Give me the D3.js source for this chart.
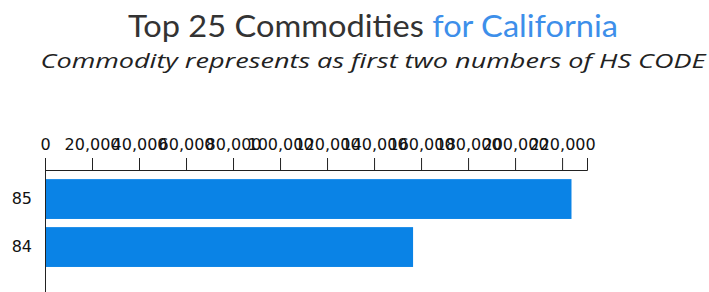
<!DOCTYPE html>
<html>
<head>
<meta charset="utf-8">
<script src="https://cdn.jsdelivr.net/npm/d3@7"></script>
<style>
  body { margin: 0; background: #fff; }
  .title { font-family: Lato, "Open Sans", sans-serif; }
  .subtitle { font-family: "Open Sans", Lato, sans-serif; }
  .axis text { font-family: "DejaVu Sans", Verdana, sans-serif; font-size: 16px; fill: #111; }
  .axis path, .axis line { stroke: #222; }
</style>
</head>
<body>
<div id="chart"></div>
<script>
// data
const commodities = ['85', '84'];
const tradeValues = [224000, 156600];
const xMax = 230600;

const width = 709, height = 292;
const margin = {top: 170, left: 45};
const plotW = 542;
const plotH = 200;
const bandStep = 48;

const svg = d3.select('#chart')
    .append('svg')
    .attr('width', width)
    .attr('height', height);

// title
const title = svg.append('text')
    .attr('class', 'title')
    .attr('x', 373)
    .attr('y', 37)
    .attr('text-anchor', 'middle')
    .attr('textLength', 490)
    .attr('lengthAdjust', 'spacingAndGlyphs')
    .style('font-size', '31px');
title.append('tspan').attr('fill', '#333').text('Top 25 Commodities ');
title.append('tspan').attr('fill', '#3d8fea').text('for California');

svg.append('text')
    .attr('class', 'subtitle')
    .attr('x', 373)
    .attr('y', 68)
    .attr('text-anchor', 'middle')
    .attr('textLength', 665)
    .attr('lengthAdjust', 'spacingAndGlyphs')
    .attr('fill', '#222')
    .style('font-size', '20px')
    .style('font-style', 'italic')
    .text('Commodity represents as first two numbers of HS CODE');

const g = svg.append('g')
    .attr('transform', `translate(${margin.left},${margin.top})`);

const x = d3.scaleLinear()
    .domain([0, xMax])
    .range([0, plotW]);

const pi = 0.17, po = 0.19;
const y = d3.scaleBand()
    .domain(commodities)
    .range([0, bandStep * (commodities.length - pi + 2 * po)])
    .paddingInner(pi)
    .paddingOuter(po);

const data = commodities.map((c, i) => ({code: c, value: tradeValues[i]}));

g.selectAll('rect')
    .data(data)
    .enter()
    .append('rect')
    .attr('x', 0)
    .attr('y', d => y(d.code))
    .attr('width', d => x(d.value))
    .attr('height', y.bandwidth())
    .attr('fill', '#0a83e6');

g.append('g')
    .attr('class', 'axis')
    .call(d3.axisTop(x).ticks(10).tickSize(12).tickPadding(8));

const yAxis = g.append('g')
    .attr('class', 'axis')
    .call(d3.axisLeft(y).tickSize(0).tickPadding(13));
// the left frame line runs on past the bars
yAxis.select('.domain').attr('d', `M0.5,0V${plotH}`);
</script>
</body>
</html>
